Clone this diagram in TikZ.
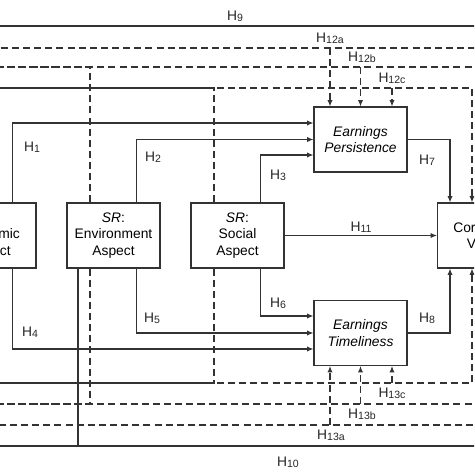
\documentclass[tikz,border=0pt]{standalone}
\usepackage{fontspec}
\setmainfont{Liberation Sans}
\usetikzlibrary{arrows.meta,positioning}
\newcommand{\hsub}[1]{H\raisebox{-1.2pt}{\fontsize{9}{10}\selectfont #1}}

\begin{document}
\begin{tikzpicture}[x=0.03cm,y=-0.03cm]
\tikzstyle{box}=[rectangle, draw=black!80, line width=0.9pt,
	minimum width=2.79cm, minimum height=1.95cm, align=center,
	inner sep=1pt, node distance=3.72cm, font=\fontsize{11.8}{14}\selectfont
]
\tikzstyle{hyp}=[inner sep=0pt, font=\fontsize{11.8}{14}\selectfont, text=black!85]
\tikzstyle{link}=[line width=0.9pt, draw=black!80]
\tikzstyle{arr}=[link, -{Latex[length=5.5pt,width=4.5pt]}]
\tikzstyle{mod}=[link, dash pattern=on 6pt off 3.5pt]
\tikzstyle{darr}=[mod, -{Latex[length=5.5pt,width=4.5pt]}]
\useasboundingbox (0,0) rectangle (474,474);
\clip (0,0) rectangle (474,474);
% boxes
\node[box] (env) at (113.5,235.5) {\textit{SR}:\\Environment\\Aspect};
\node[box,right of = env] (soc) {\textit{SR}:\\Social\\Aspect};
\node[box,left of = env] (eco) {\textit{SR}:\\Economic\\Aspect};
\node[box,right of = soc,node distance=7.395cm] (cv) {Corporate\\Value};
\node[box] (ep) at (360.5,139.5) {\textit{Earnings}\\\textit{Persistence}};
\node[box] (et) at (360.5,333) {\textit{Earnings}\\\textit{Timeliness}};
% levels of the long lines
\coordinate (yH9) at (0,26);
\coordinate (y12a) at (0,48);
\coordinate (y12b) at (0,67);
\coordinate (y12c) at (0,88);
\coordinate (y13c) at (0,383);
\coordinate (y13b) at (0,404);
\coordinate (y13a) at (0,425);
\coordinate (yH10) at (0,446);
% direct paths
\draw[arr] ([xshift=0.69cm]eco.north) |- ([yshift=0.495cm]ep.west);
\draw[arr] ([xshift=0.69cm]env.north) |- (ep.west);
\draw[arr] ([xshift=0.69cm]soc.north) |- ([yshift=-0.465cm]ep.west);
\draw[arr] ([xshift=0.69cm]eco.south) |- ([yshift=-0.48cm]et.west);
\draw[arr] ([xshift=0.69cm]env.south) |- (et.west);
\draw[arr] ([xshift=0.69cm]soc.south) |- ([yshift=0.51cm]et.west);
\draw[arr] (ep.east) -| ([xshift=-1.02cm]cv.north);
\draw[arr] (et.east) -| ([xshift=-1.02cm]cv.south);
\draw[arr] (soc) -- (cv);
\draw[arr] ([xshift=-1.05cm]eco.north) |- (yH9) -| ([xshift=1.35cm]cv.north);
\draw[arr] ([xshift=-1.065cm]env.south) |- (yH10) -| ([xshift=1.35cm]cv.south);
% moderating paths
\draw[darr] ([xshift=-0.705cm]eco.north) |- (y12a) -| ([xshift=1.05cm]cv.north);
\draw[darr] ([xshift=-0.705cm]env.north) |- (y12b) -| ([xshift=0.36cm]cv.north);
\draw[darr] ([xshift=-0.705cm]soc.north) |- (y12c) -| ([xshift=-0.36cm]cv.north);
\draw[darr] ([xshift=-0.705cm]eco.south) |- (y13a) -| ([xshift=1.05cm]cv.south);
\draw[darr] ([xshift=-0.705cm]env.south) |- (y13b) -| ([xshift=0.36cm]cv.south);
\draw[darr] ([xshift=-0.705cm]soc.south) |- (y13c) -| ([xshift=-0.36cm]cv.south);
\draw[darr] ([xshift=-0.915cm]ep.north |- y12a) -- ([xshift=-0.915cm]ep.north);
\draw[darr] (ep.north |- y12b) -- (ep.north);
\draw[darr] ([xshift=0.945cm]ep.north |- y12c) -- ([xshift=0.945cm]ep.north);
\draw[darr] ([xshift=-0.915cm]et.south |- y13a) -- ([xshift=-0.915cm]et.south);
\draw[darr] (et.south |- y13b) -- (et.south);
\draw[darr] ([xshift=0.945cm]et.south |- y13c) -- ([xshift=0.945cm]et.south);
% labels
\node[hyp] (lH9) at (235,16) {\hsub{9}};
\node[hyp] (lH12a) at (330,38) {\hsub{12a}};
\node[hyp] (lH12b) at (362,57) {\hsub{12b}};
\node[hyp] (lH12c) at (392,78) {\hsub{12c}};
\node[hyp] (lH1) at (32,147) {\hsub{1}};
\node[hyp] (lH2) at (153,157) {\hsub{2}};
\node[hyp] (lH3) at (278,175) {\hsub{3}};
\node[hyp] (lH7) at (427,160) {\hsub{7}};
\node[hyp] (lH11) at (361,227) {\hsub{11}};
\node[hyp] (lH6) at (278,303) {\hsub{6}};
\node[hyp] (lH5) at (152,318) {\hsub{5}};
\node[hyp] (lH8) at (427,318) {\hsub{8}};
\node[hyp] (lH4) at (30,332) {\hsub{4}};
\node[hyp] (lH13c) at (392,393) {\hsub{13c}};
\node[hyp] (lH13b) at (362,414) {\hsub{13b}};
\node[hyp] (lH13a) at (331,435) {\hsub{13a}};
\node[hyp] (lH10) at (288,462) {\hsub{10}};

\end{tikzpicture}
\end{document}
